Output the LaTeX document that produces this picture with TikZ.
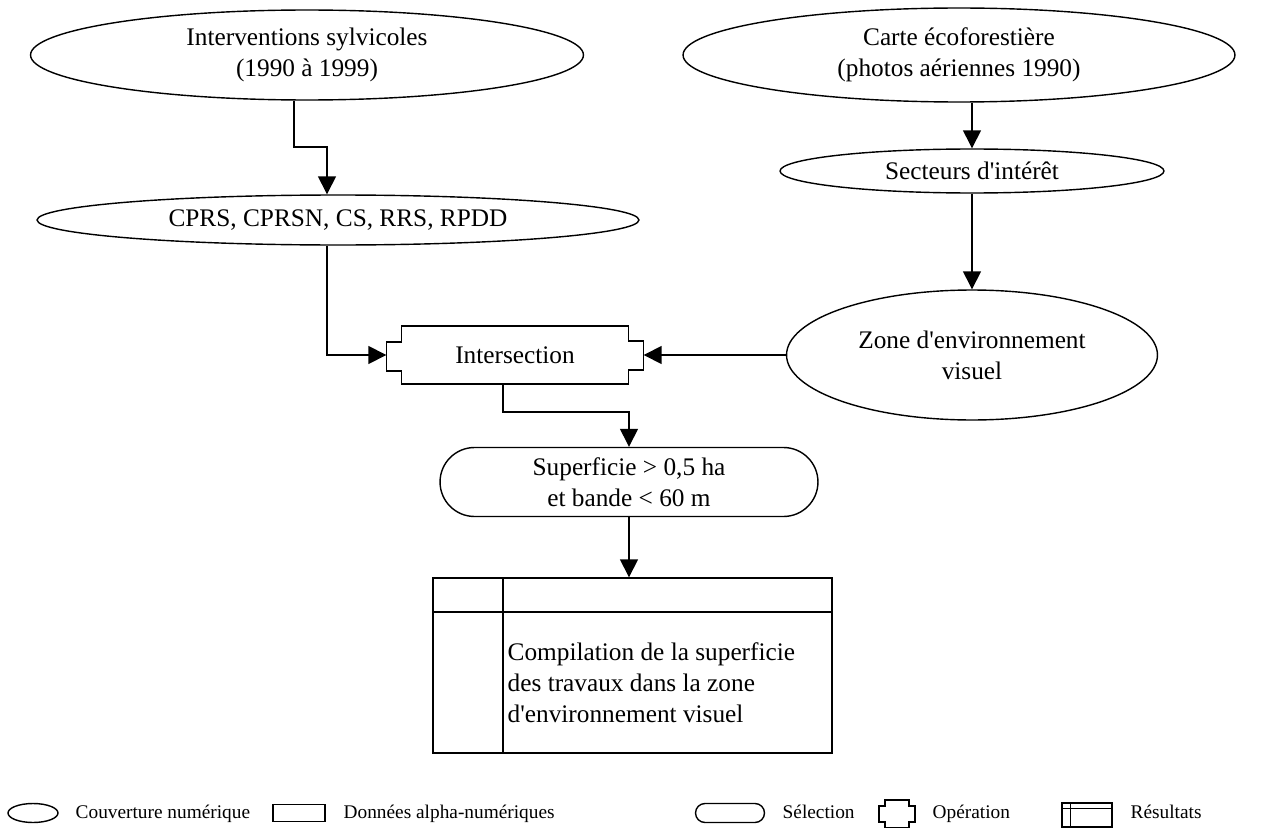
\documentclass[tikz,border=0pt]{standalone}
\usepackage{fontspec}
\setmainfont{Liberation Serif}
\usetikzlibrary{arrows.meta,shapes.geometric}

\newcommand{\boxfont}{\fontsize{14.4}{17.6}\selectfont}
\newcommand{\keyfont}{\fontsize{11}{12}\selectfont}
\newcommand{\apos}{\textquotesingle}

\begin{document}
\begin{tikzpicture}[x=0.02cm,y=-0.02cm,line width=0.8pt,
    >={Triangle[width=0.36cm,length=0.36cm]},
    cover/.style={draw,ellipse,inner sep=0pt,align=center,font=\boxfont},
    select/.style={draw,rectangle,rounded corners=0.69cm,inner sep=0pt,align=center,font=\boxfont,
      minimum width=7.56cm,minimum height=1.38cm},
    keytext/.style={anchor=base west,inner sep=0pt,font=\keyfont}]
        \useasboundingbox (0,0) rectangle (1278,828);
        % Sources
        \node[cover,minimum width=11.06cm,minimum height=1.8cm] (interv) at (307,55)
        {Interventions sylvicoles\\(1990 à 1999)};
        \node[cover,minimum width=11.04cm,minimum height=1.88cm] (carte) at (959,55)
        {Carte écoforestière\\(photos aériennes 1990)};
        \node[cover,minimum width=12.04cm,minimum height=1.0cm] (travaux) at (338,220)
        {CPRS, CPRSN, CS, RRS, RPDD};
        \node[cover,minimum width=7.68cm,minimum height=0.88cm] (secteurs) at (972,171)
        {Secteurs d\apos intérêt};
        \node[cover,minimum width=7.42cm,minimum height=2.6cm] (zone) at (972,355)
        {Zone d\apos environnement\\visuel};
        % Operation
        \node[inner sep=0pt,minimum width=5.12cm,minimum height=1.14cm,font=\boxfont] (inter) at (515,355)
        {Intersection};
        \draw ([xshift=0.3cm]inter.north west) -- ([xshift=-0.3cm]inter.north east)
        -- ++(0,15) -- ++(15,0) -- ++(0,29) -- ++(-15,0) -- ([xshift=-0.3cm]inter.south east)
        -- ([xshift=0.3cm]inter.south west) -- ++(0,-13) -- ++(-15,0) -- ++(0,-29) -- ++(15,0) -- cycle;
        % Selection
        \node[select] (select) at (629,482) {Superficie > 0,5 ha\\et bande < 60 m};
        % Results
        \node[draw,rectangle,inner sep=0pt,minimum width=7.98cm,minimum height=3.5cm] (result) at (632.5,665.5) {};
        \draw (result.west |- 0,612) -- (result.east |- 0,612);
        \draw (503,578) coordinate (resdiv) -- (resdiv |- result.south);
        \node[anchor=west,align=left,inner sep=0pt,font=\boxfont] (compil) at (507,683)
        {Compilation de la superficie\\des travaux dans la zone\\d\apos environnement visuel};
        % Flow
        \coordinate (drop) at (327,147);
        \draw[->] (interv.south -| 294,0) |- (drop) -- (drop |- travaux.north);
        \draw[->] (secteurs.north |- carte.south) -- (secteurs.north);
        \draw[->] (secteurs.south) -- (zone.north);
        \draw[->] (drop |- travaux.south) |- (inter.west);
        \draw[->] (zone.west) -- (inter.east);
        \coordinate (split) at (503,412);
        \draw[->] (split |- inter.south) -- (split) -| (select.north);
        \draw[->] (select.south) -- (select.south |- result.north);
        % Legend
        \node[draw,ellipse,inner sep=0pt,minimum width=1.0cm,minimum height=0.38cm] (keycov) at (33,813) {};
        \node[keytext] at (75,818) {Couverture numérique};
        \node[draw,rectangle,inner sep=0pt,minimum width=1.04cm,minimum height=0.34cm] (keydata) at (299,813) {};
        \node[keytext] at (343,818) {Données alpha-numériques};
        \node[draw,rectangle,rounded corners=0.19cm,inner sep=0pt,minimum width=1.38cm,minimum height=0.38cm] (keysel) at (730,813) {};
        \node[keytext] at (782,818) {Sélection};
        \coordinate (keyop) at (897,814);
        \draw ([shift={(-12,-14)}]keyop) -- ++(24,0) -- ++(0,6) -- ++(6,0) -- ++(0,16) -- ++(-6,0) -- ++(0,6)
        -- ++(-24,0) -- ++(0,-6) -- ++(-6,0) -- ++(0,-16) -- ++(6,0) -- cycle;
        \node[keytext] at (932,818) {Opération};
        \node[draw,rectangle,inner sep=0pt,minimum width=1.0cm,minimum height=0.48cm] (keyres) at (1087,815) {};
        \draw ([shift={(0,6)}]keyres.north west) -- ([shift={(0,6)}]keyres.north east);
        \draw ([shift={(9,0)}]keyres.north west) -- ([shift={(9,0)}]keyres.south west);
        \node[keytext] at (1130,818) {Résultats};
      \end{tikzpicture}
\end{document}
